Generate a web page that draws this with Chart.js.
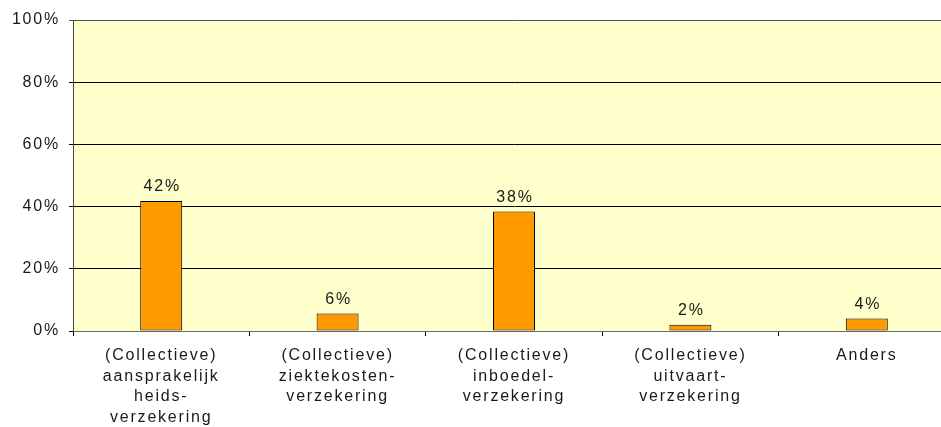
<!DOCTYPE html>
<html>
<head>
<meta charset="utf-8">
<script src="https://cdn.jsdelivr.net/npm/chart.js@4.4.1/dist/chart.umd.min.js"></script>
<style>
  html, body { margin: 0; padding: 0; background: #fff; overflow: hidden; }
  #wrap { width: 941px; height: 427px; overflow: hidden; }
</style>
</head>
<body>
<div id="wrap"><canvas id="grafico" width="955" height="427"></canvas></div>
<script>
const categorieen = [
    ['(Collectieve)', 'aansprakelijk', 'heids-', 'verzekering'],
    ['(Collectieve)', 'ziektekosten-', 'verzekering'],
    ['(Collectieve)', 'inboedel-', 'verzekering'],
    ['(Collectieve)', 'uitvaart-', 'verzekering'],
    'Anders'
];
const percentages = [41.8, 5.6, 38.4, 2.0, 4.0];
const yTicks = [0, 20, 40, 60, 80, 100];

const SPACING = '1.8px';

// achtergrond van het plotvlak + letterafstand
const achtergrond = {
    id: 'achtergrond',
    beforeDraw(chart) {
        const ctx = chart.ctx;
        ctx.letterSpacing = SPACING;
        const a = chart.chartArea;
        ctx.save();
        ctx.fillStyle = '#FFFFCC';
        ctx.fillRect(a.left, a.top, a.right - a.left, a.bottom - a.top);
        ctx.restore();
    }
};

// waarden boven de staven
const labels = {
    id: 'labels',
    afterDatasetsDraw(chart) {
        const ctx = chart.ctx;
        const meta = chart.getDatasetMeta(0);
        ctx.save();
        ctx.letterSpacing = SPACING;
        ctx.font = '16px "Liberation Sans", Arial, sans-serif';
        ctx.fillStyle = '#1a1a1a';
        ctx.textAlign = 'center';
        ctx.textBaseline = 'alphabetic';
        meta.data.forEach((bar, i) => {
            ctx.fillText(Math.round(percentages[i]) + '%', bar.x + 1, bar.y - 10);
        });
        ctx.restore();
    }
};

Chart.defaults.font.family = '"Liberation Sans", Arial, sans-serif';
Chart.defaults.font.size = 16;
Chart.defaults.color = '#1a1a1a';

new Chart(document.getElementById('grafico'), {
    type: 'bar',
    data: {
        labels: categorieen,
        datasets: [{
            data: percentages,
            backgroundColor: '#FF9900',
            borderColor: '#000',
            borderWidth: 1,
            borderSkipped: false,
            categoryPercentage: 1,
            barPercentage: 0.238
        }]
    },
    options: {
        responsive: false,
        animation: false,
        layout: { padding: { top: 20, right: 0, left: 0, bottom: 0 } },
        plugins: {
            legend: { display: false },
            tooltip: { enabled: false }
        },
        scales: {
            x: {
                grid: {
                    display: true,
                    drawOnChartArea: false,
                    drawTicks: true,
                    tickLength: 5,
                    color: '#000'
                },
                border: { color: '#666' },
                ticks: {
                    maxRotation: 0,
                    autoSkip: false,
                    padding: 9,
                    font: { lineHeight: 1.3 }
                },
                afterFit(scale) { scale.height = 96; }
            },
            y: {
                min: 0,
                max: 100,
                afterBuildTicks(scale) {
                    scale.ticks = yTicks.map(v => ({ value: v }));
                },
                ticks: {
                    padding: 9,
                    callback: v => v + '%'
                },
                grid: {
                    color: ctx => ctx.tick && ctx.tick.value === 100 ? '#555' : '#000',
                    tickLength: 4
                },
                border: { color: '#444' },
                afterFit(scale) { scale.width = 73; }
            }
        }
    },
    plugins: [achtergrond, labels]
});
</script>
</body>
</html>
